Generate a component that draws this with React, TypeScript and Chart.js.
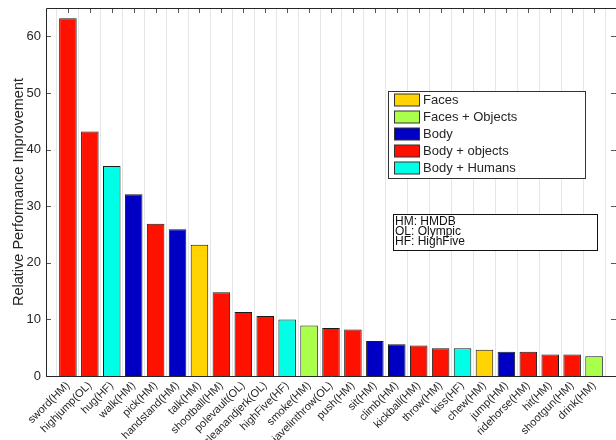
import React, { useEffect, useRef } from 'react';
import { Chart, registerables } from 'chart.js';
Chart.register(...registerables);

const categories = [
  'sword(HM)', 'highjump(OL)', 'hug(HF)', 'walk(HM)', 'pick(HM)', 'handstand(HM)', 'talk(HM)',
  'shootball(HM)', 'polevault(OL)', 'cleanandjerk(OL)', 'highFive(HF)', 'smoke(HM)', 'javelinthrow(OL)',
  'push(HM)', 'sit(HM)', 'climb(HM)', 'kickball(HM)', 'throw(HM)', 'kiss(HF)', 'chew(HM)', 'jump(HM)',
  'ridehorse(HM)', 'hit(HM)', 'shootgun(HM)', 'drink(HM)',
];
const values = [
  63.2, 43.2, 37.1, 32.1, 26.9, 25.9, 23.2, 14.8, 11.3, 10.6, 10.0, 8.9, 8.5,
  8.2, 6.2, 5.6, 5.4, 4.9, 4.9, 4.65, 4.3, 4.3, 3.8, 3.8, 3.47,
];
// index into groupNames for each bar
const groups = [3, 3, 4, 2, 3, 2, 0, 3, 3, 3, 4, 1, 3, 3, 2, 2, 3, 3, 4, 0, 2, 3, 3, 3, 1];
const groupNames = ['Faces', 'Faces + Objects', 'Body', 'Body + objects', 'Body + Humans'];
const groupColors = ['#ffd400', '#aaff4a', '#0000c4', '#ff1100', '#00ffe6'];
const yTicks = [0, 10, 20, 30, 40, 50, 60];
const yMax = 65;
const yTitle = 'Relative Performance Improvement';
const notes = ['HM: HMDB', 'OL: Olympic', 'HF: HighFive'];

const FONT = '"Liberation Sans", Arial, Helvetica, sans-serif';

const boxPlugin = {
  id: 'matlabBox',
  afterDraw(chart: any) {
    const { ctx, chartArea } = chart;
    const { left, top, right, bottom } = chartArea;
    const xs = chart.scales.x;
    const ys = chart.scales.y;
    ctx.save();
    // inward ticks
    ctx.strokeStyle = '#555';
    ctx.lineWidth = 1;
    ctx.beginPath();
    for (let i = 1; i <= categories.length; i++) {
      const x = Math.round(xs.getPixelForValue(i)) + 0.5;
      ctx.moveTo(x, top);
      ctx.lineTo(x, top + 5);
    }
    for (const v of yTicks) {
      const y = Math.round(ys.getPixelForValue(v)) + 0.5;
      ctx.moveTo(left, y);
      ctx.lineTo(left + 5, y);
      ctx.moveTo(right, y);
      ctx.lineTo(right - 5, y);
    }
    ctx.stroke();
    // axes lines
    ctx.strokeStyle = '#262626';
    ctx.beginPath();
    ctx.moveTo(Math.round(left) + 0.5, Math.round(bottom) + 0.5);
    ctx.lineTo(Math.round(left) + 0.5, Math.round(top) + 0.5);
    ctx.lineTo(right, Math.round(top) + 0.5);
    ctx.moveTo(Math.round(left) + 0.5, Math.round(bottom) + 0.5);
    ctx.lineTo(right, Math.round(bottom) + 0.5);
    ctx.stroke();

    // legend box
    const lx = 388.5, ly = 91.5, lw = 197, lh = 87;
    ctx.fillStyle = '#ffffff';
    ctx.fillRect(lx, ly, lw, lh);
    ctx.strokeStyle = '#333';
    ctx.strokeRect(lx, ly, lw, lh);
    ctx.font = '13px ' + FONT;
    ctx.textBaseline = 'middle';
    ctx.textAlign = 'left';
    groupNames.forEach((name, i) => {
      const cy = 100 + i * 17;
      ctx.fillStyle = groupColors[i];
      ctx.fillRect(394.5, cy - 6, 25, 12);
      ctx.strokeStyle = '#333';
      ctx.strokeRect(394.5, cy - 6, 25, 12);
      ctx.fillStyle = '#262626';
      ctx.fillText(name, 423, cy + 0.5);
    });

    // notes box
    const nx = 393.5, ny = 214.5, nw = 204, nh = 36;
    ctx.fillStyle = '#ffffff';
    ctx.fillRect(nx, ny, nw, nh);
    ctx.strokeStyle = '#111';
    ctx.strokeRect(nx, ny, nw, nh);
    ctx.fillStyle = '#111';
    ctx.font = '12px ' + FONT;
    notes.forEach((t, i) => {
      ctx.fillText(t, 395, 221.5 + i * 10);
    });
    ctx.restore();
  },
};

export default function App() {
  const ref = useRef<HTMLCanvasElement>(null);
  useEffect(() => {
    const labels = ['', ...categories, ''];
    const data = [null, ...values, null];
    const colors = ['#fff', ...groups.map((g) => groupColors[g]), '#fff'];
    const chart = new Chart(ref.current as HTMLCanvasElement, {
      type: 'bar',
      data: {
        labels,
        datasets: [
          {
            data: data as any,
            backgroundColor: colors,
            borderColor: '#1a1a1a',
            borderWidth: 1,
            barPercentage: 0.8,
            categoryPercentage: 1,
          },
        ],
      },
      plugins: [boxPlugin],
      options: {
        animation: false,
        responsive: false,
        layout: { padding: { top: 8, right: 0, left: 0, bottom: 0 } },
        plugins: { legend: { display: false }, tooltip: { enabled: false } },
        scales: {
          x: {
            offset: false,
            grid: { display: true, color: '#e6e6e6', drawTicks: false },
            border: { display: false },
            ticks: {
              autoSkip: false,
              maxRotation: 45,
              minRotation: 45,
              padding: 3,
              color: '#262626',
              font: { family: FONT, size: 11 },
            },
            afterFit: (s: any) => {
              s.height = 64;
              s.paddingRight = 0;
              s.paddingLeft = 0;
            },
          },
          y: {
            min: 0,
            max: yMax,
            grid: { display: false, drawTicks: false },
            border: { display: false },
            ticks: {
              stepSize: 10,
              padding: 5,
              color: '#262626',
              font: { family: FONT, size: 13 },
            },
            afterBuildTicks: (s: any) => {
              s.ticks = yTicks.map((v) => ({ value: v }));
            },
            title: {
              display: true,
              text: yTitle,
              color: '#262626',
              font: { family: FONT, size: 14.5 },
              padding: { top: 10, bottom: 0 },
            },
            afterFit: (s: any) => {
              s.width = 46;
              s.paddingTop = 0;
              s.paddingBottom = 0;
            },
          },
        },
      },
    });
    return () => chart.destroy();
  }, []);
  return (
    <div style={{ position: 'fixed', left: 0, top: 0, width: 616, height: 440, background: '#fff' }}>
      <canvas ref={ref} width={616} height={440} style={{ display: 'block' }} />
    </div>
  );
}
